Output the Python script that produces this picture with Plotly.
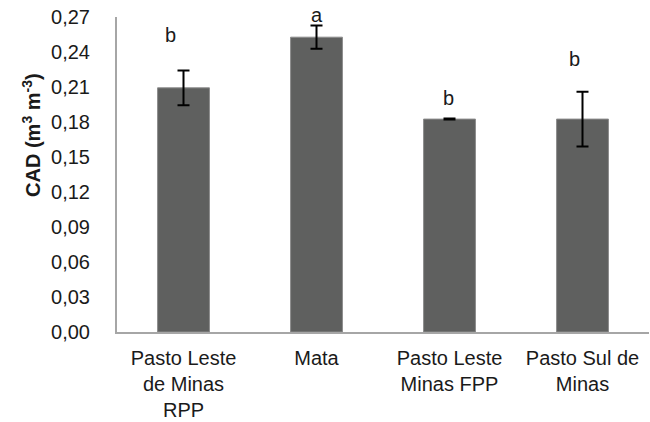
import plotly.graph_objects as go

categories = ["Pasto Leste<br>de Minas<br>RPP", "Mata", "Pasto Leste<br>Minas FPP", "Pasto Sul de<br>Minas"]
cad_values = [0.2093, 0.2527, 0.1825, 0.1825]
cad_errors = [0.0149, 0.0100, 0.0004, 0.0235]
letters = ["b", "a", "b", "b"]
letter_y = [0.2547, 0.2717, 0.2002, 0.2342]
letter_xshift = [-13, 0, -1, -8]
y_ticks = [0, 0.03, 0.06, 0.09, 0.12, 0.15, 0.18, 0.21, 0.24, 0.27]
Y_MAX = 0.27

FONT = "Liberation Sans, Arial, sans-serif"

fig = go.Figure()
fig.add_trace(go.Bar(
    x=categories, y=cad_values,
    marker=dict(color="#5f605f", line=dict(color="#8c8c8c", width=1)),
    error_y=dict(type="data", array=cad_errors, visible=True,
                 color="black", thickness=2, width=6),
))

for i, (t, ly, xs) in enumerate(zip(letters, letter_y, letter_xshift)):
    fig.add_annotation(xref="x", yref="paper", x=categories[i], y=ly / Y_MAX, text=t,
                       showarrow=False, xshift=xs, yanchor="middle",
                       font=dict(family=FONT, size=20, color="#1a1a1a"))

fig.add_annotation(xref="paper", yref="paper", x=-0.162, y=0.625,
                   text="<b>CAD (m<sup>3</sup> m<sup>-3</sup>)</b>",
                   textangle=-90, showarrow=False, xanchor="center", yanchor="middle",
                   font=dict(family=FONT, size=20, color="#1a1a1a"))

fig.update_layout(
    width=650, height=422,
    margin=dict(l=117, r=1, t=17, b=88),
    paper_bgcolor="white", plot_bgcolor="white",
    separators=",.",
    bargap=0.61,
    showlegend=False,
    font=dict(family=FONT, size=20, color="#1a1a1a"),
)
fig.update_yaxes(range=[0, Y_MAX], tickvals=y_ticks, tickformat=".2f",
                 showgrid=False, zeroline=False, showline=True, linecolor="#a6a6a6", linewidth=2,
                 ticks="", ticklabelstandoff=21, tickfont=dict(family=FONT, size=20, color="#1a1a1a"))
fig.update_xaxes(showgrid=False, showline=True, linecolor="#a6a6a6", linewidth=2, ticks="",
                 ticklabelstandoff=7, tickfont=dict(family=FONT, size=20, color="#1a1a1a"))

fig.write_html("out.html", config={"displayModeBar": False},
               post_script="document.body.style.margin='0px';document.body.style.overflow='hidden';")
